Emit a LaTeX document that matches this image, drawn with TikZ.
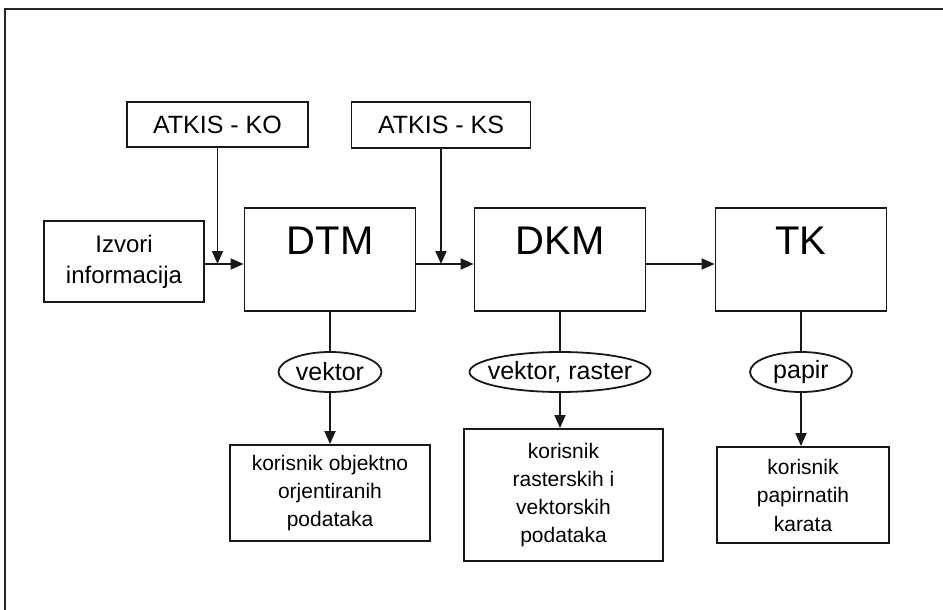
\documentclass[tikz,border=0pt]{standalone}
\usepackage{fontspec}
\setmainfont{Liberation Sans}
\usetikzlibrary{arrows.meta,shapes.geometric}
\tikzset{
  lw/.style={line width=1.8pt, draw=black!90},
  boxsm/.style={lw, rectangle, inner sep=0pt, align=center},
  bigbox/.style={boxsm, minimum width=171pt, minimum height=103pt},
  oval/.style={lw, ellipse, inner sep=0pt, minimum height=40pt, font=\fontsize{25}{30}\selectfont},
  arr/.style={lw, -{Triangle[length=13pt,width=11pt]}},
  con/.style={lw}
}
\begin{document}
\begin{tikzpicture}[x=1pt,y=-1pt]
\useasboundingbox (0,0) rectangle (943,610);
% frame
\draw[line width=1.6pt, black!85] (5,610) -- (5,9) -- (943,9);
% top inputs
\node[boxsm, minimum width=181pt, minimum height=45pt, font=\fontsize{25}{30}\selectfont] (ko) at (217.5,124.5) {ATKIS - KO};
\node[boxsm, minimum width=179pt, minimum height=46pt, font=\fontsize{25}{30}\selectfont] (ks) at (441,125) {ATKIS - KS};
% source
\node[boxsm, minimum width=160pt, minimum height=81pt, font=\fontsize{24}{31}\selectfont] (izv) at (124,261.5) {Izvori\\informacija};
% main boxes
\node[bigbox, label={[anchor=center,yshift=-34pt,font=\fontsize{40}{40}\selectfont]north:DTM}] (dtm) at (330,259.5) {};
\node[bigbox, label={[anchor=center,yshift=-34pt,font=\fontsize{40}{40}\selectfont]north:DKM}] (dkm) at (560,259.5) {};
\node[bigbox, label={[anchor=center,yshift=-34pt,font=\fontsize{40}{40}\selectfont]north:TK}] (tk) at (801,259.5) {};
% ovals
\node[oval, minimum width=103pt] (e1) at (330,372) {\makebox[0pt]{vektor}};
\node[oval, minimum width=181pt] (e2) at (560,372) {\makebox[0pt]{vektor, raster}};
\node[oval, minimum width=102pt] (e3) at (801,372) {\makebox[0pt]{papir}};
% users
\node[boxsm, minimum width=200pt, minimum height=96pt, font=\fontsize{21}{28}\selectfont] (u1) at (330,493) {korisnik objektno\\orjentiranih\\podataka};
\node[boxsm, minimum width=199pt, minimum height=132pt, font=\fontsize{21}{28}\selectfont] (u2) at (563.5,495) {korisnik\\rasterskih i\\vektorskih\\podataka};
\node[boxsm, minimum width=172pt, minimum height=96pt, font=\fontsize{21}{28.5}\selectfont] (u3) at (803,495) {korisnik\\papirnatih\\karata};
% junction points
\coordinate (j1) at (217.5,264);
\coordinate (j2) at (441,264);
% horizontal connectors
\draw[arr] (izv.east |- j1) -- (dtm.west |- j1);
\draw[arr] (dtm.east |- j2) -- (dkm.west |- j2);
\draw[arr] (dkm.east |- j2) -- (tk.west |- j2);
% vertical inputs
\draw[arr] (ko.south) -- (j1);
\draw[arr] (ks.south) -- (j2);
% outputs
\draw[con] (dtm.south) -- (e1.north);
\draw[arr] (e1.south) -- (e1.south |- u1.north);
\draw[con] (dkm.south) -- (e2.north);
\draw[arr] (e2.south) -- (e2.south |- u2.north);
\draw[con] (tk.south) -- (e3.north);
\draw[arr] (e3.south) -- (e3.south |- u3.north);
\end{tikzpicture}
\end{document}
